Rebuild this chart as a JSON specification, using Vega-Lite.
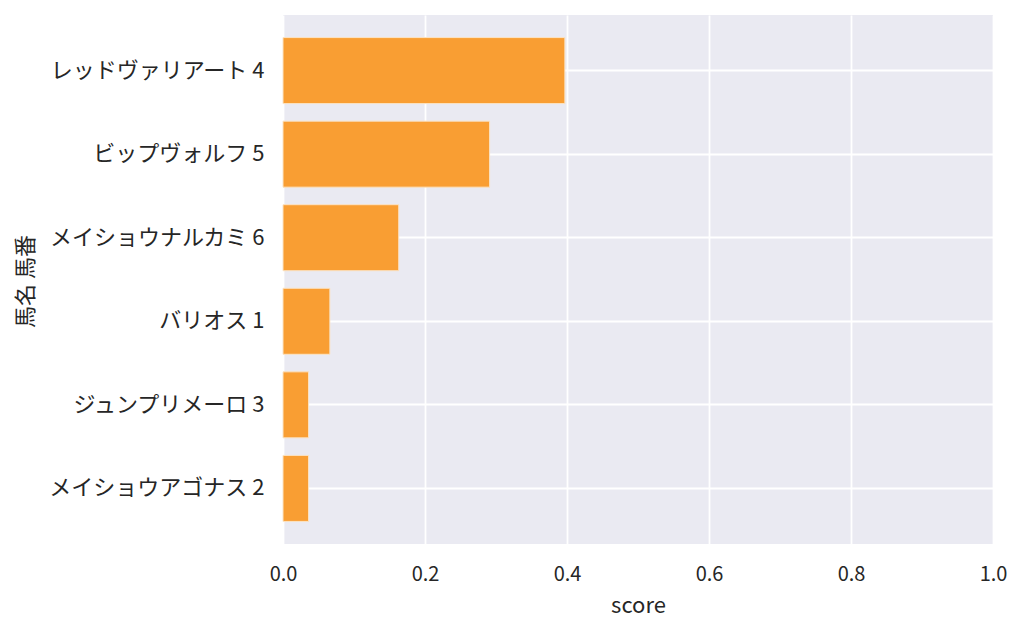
{
  "$schema": "https://vega.github.io/schema/vega-lite/v6.json",
  "width": 710,
  "height": 529,
  "autosize": {"type": "none"},
  "padding": {"left": 283, "top": 15, "right": 31, "bottom": 90},
  "background": "white",
  "data": {
    "values": [
      {"horse": "レッドヴァリアート 4", "score": 0.397},
      {"horse": "ビップヴォルフ 5", "score": 0.291},
      {"horse": "メイショウナルカミ 6", "score": 0.163},
      {"horse": "バリオス 1", "score": 0.066},
      {"horse": "ジュンプリメーロ 3", "score": 0.036},
      {"horse": "メイショウアゴナス 2", "score": 0.036}
    ]
  },
  "mark": {"type": "bar", "color": "#f99e33", "stroke": "#fbe3c4", "strokeWidth": 1},
  "encoding": {
    "y": {
      "field": "horse",
      "type": "nominal",
      "sort": null,
      "title": "馬名 馬番",
      "scale": {"paddingInner": 0.21, "paddingOuter": 0.27},
      "axis": {
        "bandPosition": 0.5,
        "labelPadding": 19,
        "labelFontSize": 22,
        "labelLimit": 400,
        "titleX": -258,
        "titleY": 266,
        "titleAngle": -90,
        "titleAlign": "center",
        "titleBaseline": "middle",
        "titleFontSize": 22
      }
    },
    "x": {
      "field": "score",
      "type": "quantitative",
      "title": "score",
      "scale": {"domain": [0, 1]},
      "axis": {"tickCount": 5, "format": ".1f", "labelFlush": false, "labelPadding": 20, "titlePadding": 11, "titleFontSize": 22}
    }
  },
  "config": {
    "font": "Noto Sans CJK JP",
    "view": {"fill": "#eaeaf2", "stroke": null},
    "axis": {
      "grid": true,
      "gridColor": "white",
      "gridWidth": 1.8,
      "domain": false,
      "ticks": false,
      "labelFontSize": 20,
      "labelColor": "#262626",
      "labelFont": "Noto Sans CJK JP",
      "titleFontSize": 21,
      "titleFontWeight": "normal",
      "titleColor": "#262626",
      "titleFont": "Noto Sans CJK JP"
    }
  }
}
